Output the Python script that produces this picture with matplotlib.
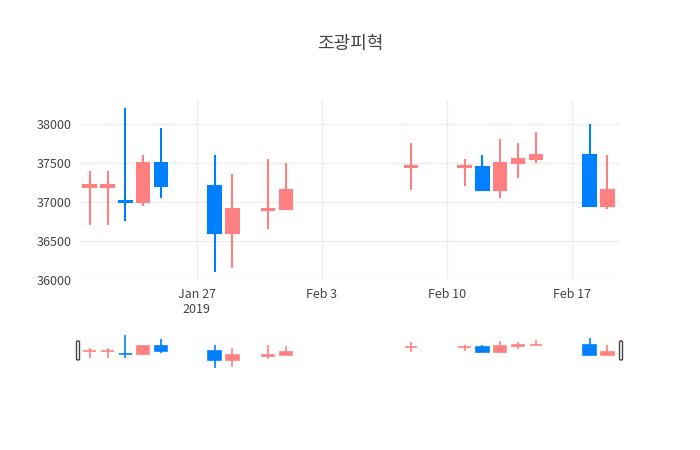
import numpy as np
import matplotlib
matplotlib.use('Agg')
import matplotlib.pyplot as plt
import matplotlib.dates as mdates
from matplotlib.patches import FancyBboxPatch

plt.rcParams['font.family'] = ['Noto Sans CJK KR', 'DejaVu Sans']

dates = ['2019-01-21', '2019-01-22', '2019-01-23', '2019-01-24', '2019-01-25',
         '2019-01-28', '2019-01-29', '2019-01-31', '2019-02-01', '2019-02-08',
         '2019-02-11', '2019-02-12', '2019-02-13', '2019-02-14', '2019-02-15',
         '2019-02-18', '2019-02-19']
opens  = [37200, 37200, 37000, 37000, 37500, 37200, 36600, 36900, 36900, 37450,
          37450, 37450, 37150, 37500, 37550, 37600, 36950]
closes = [37200, 37200, 37000, 37500, 37200, 36600, 36900, 36900, 37150, 37450,
          37450, 37150, 37500, 37550, 37600, 36950, 37150]
highs  = [37400, 37400, 38200, 37600, 37950, 37600, 37350, 37550, 37500, 37750,
          37550, 37600, 37800, 37750, 37900, 38000, 37600]
lows   = [36700, 36700, 36750, 36950, 37050, 36100, 36150, 36650, 36900, 37150,
          37200, 37150, 37050, 37300, 37500, 36950, 36900]
# red = up / flat, blue = down
up = [True, True, False, True, False, False, True, True, True, True,
      True, False, True, True, True, False, True]

UP_COL = '#ff8080'
DOWN_COL = '#0080ff'

x = mdates.date2num(np.array(dates, dtype='datetime64[D]'))
xlim = (mdates.datestr2num('2019-01-20 11:00'), mdates.datestr2num('2019-02-19 17:00'))


def draw_candles(ax, lw):
    for xi, o, c, h, l, u in zip(x, opens, closes, highs, lows, up):
        col = UP_COL if u else DOWN_COL
        ax.vlines(xi, l, h, color=col, lw=lw, zorder=2)
        lo, hi = min(o, c), max(o, c)
        if hi - lo < 20:
            lo, hi = lo - 10, hi + 10
        ax.bar(xi, hi - lo, bottom=lo, width=0.7, color=col, edgecolor=col,
               lw=lw, zorder=3)


fig = plt.figure(figsize=(7, 4.5), dpi=100)
ax = fig.add_axes([80 / 700, 1 - 280 / 450, 540 / 700, 180 / 450])
draw_candles(ax, 1.5)
ax.set_xlim(*xlim)
ax.set_ylim(35995, 38305)
ax.set_yticks([36000, 36500, 37000, 37500, 38000])
ticks = mdates.datestr2num(['2019-01-27', '2019-02-03', '2019-02-10', '2019-02-17'])
ax.set_xticks(ticks)
ax.set_xticklabels(['Jan 27\n2019', 'Feb 3', 'Feb 10', 'Feb 17'])
ax.grid(True, color='#eeeeee', lw=1, zorder=0)
ax.set_axisbelow(True)
for s in ax.spines.values():
    s.set_visible(False)
ax.tick_params(length=0, labelsize=9, colors='#444444', pad=6)
fig.text(0.5, 1 - 44 / 450, '조광피혁', ha='center', va='center', fontsize=13, color='#444444')

# range slider
rs = fig.add_axes([80 / 700, 1 - 370 / 450, 540 / 700, 37 / 450])
draw_candles(rs, 1.2)
rs.set_xlim(*xlim)
rs.set_ylim(35950, 38350)
rs.set_xticks([])
rs.set_yticks([])
for s in rs.spines.values():
    s.set_visible(False)
for hx in (78, 621):
    fig.patches.append(FancyBboxPatch((hx / 700 - 1.5 / 700, 1 - 360 / 450), 3 / 700, 19 / 450,
                                      boxstyle='round,pad=0,rounding_size=0.002',
                                      transform=fig.transFigure, facecolor='white',
                                      edgecolor='#444444', lw=1))

fig.savefig('out.png', dpi=100)
